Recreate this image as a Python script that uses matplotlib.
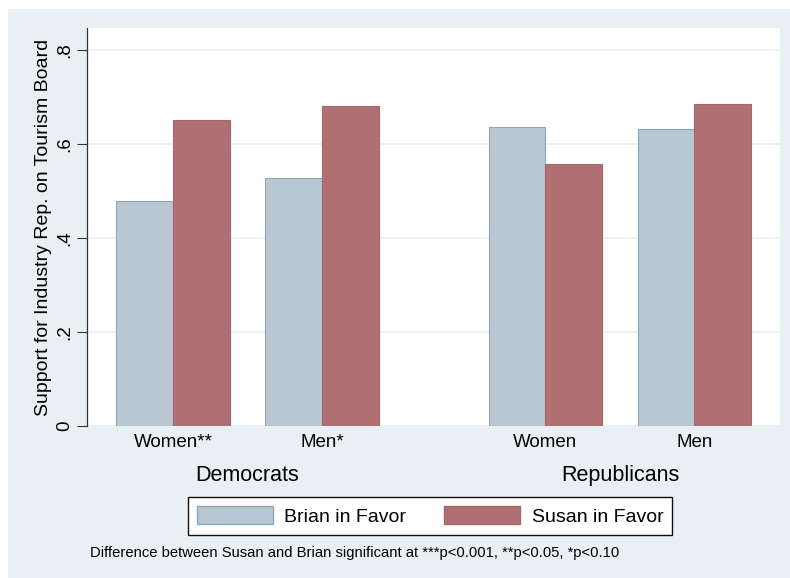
import matplotlib.pyplot as plt
from matplotlib.patches import Patch, Rectangle

plt.rcParams['font.family'] = ['Liberation Sans', 'DejaVu Sans']

categories = ['Women**', 'Men*', 'Women', 'Men']
groups = ['Democrats', 'Republicans']
brian = [0.479, 0.528, 0.636, 0.632]
susan = [0.651, 0.681, 0.557, 0.685]
positions = [0, 1, 2.5, 3.5]

bg = '#e9f0f3'
brian_fill, brian_edge = '#b9c7d2', '#8ea6bd'
susan_fill, susan_edge = '#b07073', '#a5686b'

fig = plt.figure(figsize=(7.9, 5.78), dpi=100)
fig.patch.set_facecolor('white')
# stata style light panel behind everything
fig.patches.append(Rectangle((8 / 790, 0), 1, 1 - 9 / 578, transform=fig.transFigure,
                             facecolor=bg, edgecolor='none', zorder=-10))

ax = fig.add_axes([87 / 790, 1 - 426 / 578, 693 / 790, 398 / 578])
ax.set_facecolor('white')

w = 0.38
bx = [p - w / 2 for p in positions]
sx = [p + w / 2 for p in positions]
ax.bar(bx, brian, width=w, color=brian_fill, edgecolor=brian_edge, linewidth=0.8, zorder=3)
ax.bar(sx, susan, width=w, color=susan_fill, edgecolor=susan_edge, linewidth=0.8, zorder=3)

ax.set_xlim(-0.577, 4.074)
ax.set_ylim(0, 0.847)
ax.set_yticks([0, 0.2, 0.4, 0.6, 0.8])
ax.set_yticklabels(['0', '.2', '.4', '.6', '.8'], rotation=90, va='center', fontsize=13.5)
ax.tick_params(axis='y', length=7, color='#333333', pad=3)
ax.yaxis.grid(True, color='#e6eef2', linewidth=1.2, zorder=0)
ax.set_axisbelow(True)

ax.set_xticks(positions)
ax.set_xticklabels(categories, fontsize=13.5)
ax.tick_params(axis='x', length=0, pad=6)

for s in ['top', 'right', 'bottom']:
    ax.spines[s].set_visible(False)
ax.spines['left'].set_color('#333333')
ax.spines['left'].set_linewidth(0.9)

ax.set_ylabel('Support for Industry Rep. on Tourism Board', fontsize=14, labelpad=3)

# group labels under the categories
for g, center in zip(groups, [0.5, 3.0]):
    ax.text(center, -0.125, g, transform=ax.get_xaxis_transform(), ha='center', va='center',
            fontsize=15.5)

handles = [Patch(facecolor=brian_fill, edgecolor=brian_edge, label='Brian in Favor'),
           Patch(facecolor=susan_fill, edgecolor=susan_edge, label='Susan in Favor')]
leg = fig.legend(handles=handles, loc='center', bbox_to_anchor=(430 / 790, 1 - 516 / 578),
                 ncol=2, frameon=True, fancybox=False, fontsize=14, handlelength=3.9,
                 handleheight=1.05, columnspacing=1.95, handletextpad=0.6, borderpad=0.45,
                 borderaxespad=0, framealpha=1, facecolor='white')
leg.get_frame().set_edgecolor('#111111')
leg.get_frame().set_linewidth(1.0)

fig.text(90 / 790, 1 - 553 / 578,
         'Difference between Susan and Brian significant at ***p<0.001, **p<0.05, *p<0.10',
         fontsize=10.6, va='center', ha='left')

fig.savefig('out.png', dpi=100)
